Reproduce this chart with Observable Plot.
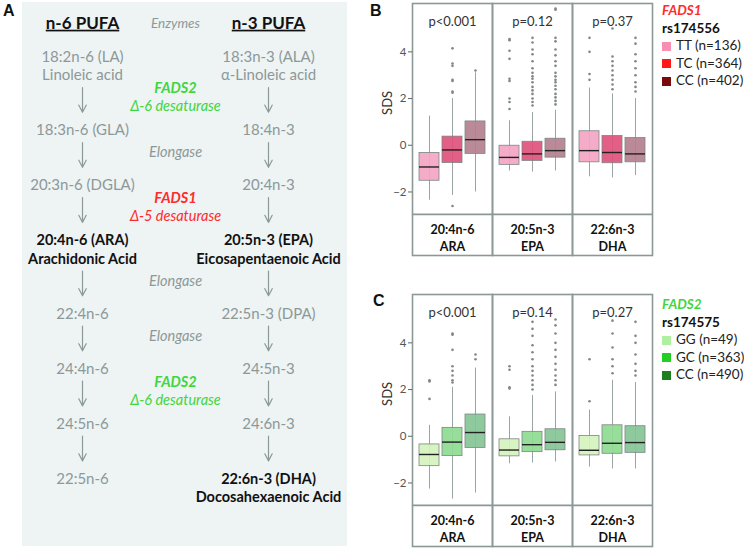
<!DOCTYPE html>
<html><head><meta charset="utf-8">
<script src="https://cdn.jsdelivr.net/npm/d3@7"></script>
<script src="https://cdn.jsdelivr.net/npm/@observablehq/plot@0.6"></script>
<style>
body{margin:0;background:#fff;font-family:Lato,sans-serif;}
#fig{position:relative;width:744px;height:549px;overflow:hidden;background:#fff;}
.letter{position:absolute;font-family:"Liberation Sans",Arial,sans-serif;font-weight:bold;font-size:16px;color:#111;line-height:16px;}
.leg{position:absolute;left:662px;font-size:13.5px;color:#222;line-height:17.6px;font-family:Lato,sans-serif;white-space:nowrap;}
.leg .gene{font-weight:bold;font-style:italic;}
.leg .snp{font-weight:bold;color:#111;}
.leg .sw{display:inline-block;width:9px;height:9px;margin-right:5px;vertical-align:-0.5px;}
</style></head><body><div id="fig"></div>
<script>
// ---------- Panel A data ----------
const headers = ["n-6 PUFA", "Enzymes", "n-3 PUFA"];
const n6Steps = ["18:2n-6 (LA)\nLinoleic acid", "18:3n-6 (GLA)", "20:3n-6 (DGLA)", "20:4n-6 (ARA)\nArachidonic Acid", "22:4n-6", "24:4n-6", "24:5n-6", "22:5n-6"];
const n3Steps = ["18:3n-3 (ALA)\nα-Linoleic acid", "18:4n-3", "20:4n-3", "20:5n-3 (EPA)\nEicosapentaenoic Acid", "22:5n-3 (DPA)", "24:5n-3", "24:6n-3", "22:6n-3 (DHA)\nDocosahexaenoic Acid"];
const enzymes = [["FADS2", "Δ-6 desaturase"], ["Elongase"], ["FADS1", "Δ-5 desaturase"], ["Elongase"], ["Elongase"], ["FADS2", "Δ-6 desaturase"], []];
const highlighted = ["20:4n-6 (ARA)", "20:5n-3 (EPA)", "22:6n-3 (DHA)"];

// ---------- Panels B & C data ----------
const facets = ["ARA", "EPA", "DHA"];
const facetLabels = ["20:4n-6\nARA", "20:5n-3\nEPA", "22:6n-3\nDHA"];
const yTicks = [-2, 0, 2, 4];

const genoB = ["TT", "TC", "CC"];
const nB = [136, 364, 402];
const pB = ["p<0.001", "p=0.12", "p=0.37"];
// order: ARA(TT,TC,CC), EPA(...), DHA(...)
const lowB  = [-2.35, -2.15, -2.0,  -1.1, -1.15, -1.1,  -1.35, -1.4, -1.3];
const q1B   = [-1.52, -0.76, -0.37, -0.84, -0.67, -0.53, -0.73, -0.77, -0.73];
const medB  = [-0.93, -0.2, 0.24,   -0.52, -0.37, -0.23, -0.23, -0.31, -0.37];
const q3B   = [-0.33, 0.37, 1.02,   -0.02, 0.15, 0.28,   0.6, 0.4, 0.31];
const highB = [1.25, 2.0, 3.1,      1.05, 1.4, 1.5,      2.45, 2.2, 2.0];
const outB = [
  [], [4.15, 3.5, 3.4, 2.8, 2.75, 2.3, 2.25, -2.6], [3.2],
  [4.55, 4.5, 4.05, 3.7, 2.85, 2.75, 2.0, 1.85, 1.55],
  [4.6, 4.4, 4.1, 3.9, 3.6, 3.3, 3.1, 2.95, 2.85, 2.7, 2.5, 2.35, 2.2, 2.0, 1.85, 1.7],
  [5.85, 5.8, 4.6, 4.45, 4.1, 3.85, 3.6, 3.4, 3.1, 2.95, 2.8, 2.7, 2.55, 2.4, 2.2, 2.05, 1.9, 1.75],
  [4.6, 4.0, 3.05, 2.8],
  [5.0, 3.8, 3.6, 3.4, 3.2, 3.0, 2.8, 2.6, 2.4],
  [4.6, 4.35, 3.9, 3.6, 3.3, 3.0, 2.7, 2.5, 2.3]
];

const genoC = ["GG", "GC", "CC"];
const nC = [49, 363, 490];
const pC = ["p<0.001", "p=0.14", "p=0.27"];
const lowC  = [-2.26, -2.69, -2.43, -1.18, -1.15, -1.1,  -1.32, -1.4, -1.4];
const q1C   = [-1.28, -0.85, -0.5,  -0.86, -0.68, -0.6,  -0.82, -0.75, -0.71];
const medC  = [-0.78, -0.25, 0.16,  -0.59, -0.36, -0.26, -0.6, -0.3, -0.27];
const q3C   = [-0.35, 0.36, 0.93,   -0.13, 0.19, 0.3,    0.01, 0.47, 0.43];
const highC = [0.47, 2.1, 2.92,     0.83, 1.75, 1.9,     1.12, 2.4, 2.3];
const outC = [
  [2.4, 2.35, 1.6], [4.4, 4.35, 3.7, 3.0, 2.8, 2.6, 2.4, 2.3], [3.5, 3.3],
  [3.0, 2.85, 2.1, 2.05],
  [4.9, 4.6, 4.3, 3.9, 3.6, 3.3, 3.0, 2.8, 2.6, 2.4, 2.2, 2.0],
  [5.0, 4.75, 4.4, 4.0, 3.7, 3.4, 3.1, 2.85, 2.6, 2.4, 2.2],
  [3.3, 1.5],
  [4.95, 4.4, 3.8, 3.3, 3.0, 2.7],
  [4.9, 4.3, 4.0, 3.5, 3.1, 2.8, 2.6]
];

// ---------- styles ----------
const boxColorsB = ["#f4a5c3", "#e0517c", "#b5808f"];
const legendColorsB = ["#f78fb2", "#ff1a1a", "#7a0a0a"];
const boxColorsC = ["#d4f3bd", "#8fdb92", "#86c596"];
const legendColorsC = ["#aef0a0", "#22d022", "#1e7f1e"];
const gray = "#8c9998";
const frameColor = "#8a9896";
const enzymeColor = {FADS1: "#ff2b2b", FADS2: "#3fd63f", Elongase: gray};

const fig = document.getElementById("fig");

// ---------- Panel A ----------
(function panelA() {
  const nLines = n3Steps.map((s, k) => Math.max(s.split("\n").length, n6Steps[k].split("\n").length));
  const pos = [];
  nLines.forEach((n, k) => pos.push(k === 0 ? 0 : pos[k - 1] + 2 + nLines[k - 1]));
  const items = [];
  [["n6", n6Steps], ["n3", n3Steps]].forEach(([col, steps]) => steps.forEach((s, k) => {
    const ls = s.split("\n");
    const bold = highlighted.includes(ls[0]);
    ls.forEach((t, i) => items.push({col, line: pos[k] + i, t, bold}));
  }));
  const arrows = [];
  const enz = [];
  for (let k = 0; k < pos.length - 1; k++) {
    const last = pos[k] + nLines[k] - 1;
    for (const col of ["n6", "n3"]) arrows.push({col, from: last + 0.65, to: pos[k + 1] - 1.0});
    const e = enzymes[k];
    const mid = (last + pos[k + 1]) / 2 - 0.3;
    e.forEach((t, i) => enz.push({line: mid - (e.length - 1) / 2 + i, t, name: i === 0, color: enzymeColor[e[0]]}));
  }
  const hdr = headers.map((h, i) => ({col: ["n6", "enz", "n3"][i], t: h, line: -1.85, bold: i !== 1}));
  const svg = Plot.plot({
    width: 325, height: 544, margin: 0,
    style: {background: "#eef3f4", fontFamily: "Lato, sans-serif", overflow: "visible"},
    x: {type: "point", domain: ["n6", "enz", "n3"], range: [59, 246.5], padding: 0, axis: null},
    y: {domain: [0, 24], range: [54.7, 495.1], axis: null},
    marks: [
      Plot.arrow(arrows, {x1: "col", x2: "col", y1: "from", y2: "to", stroke: gray, strokeWidth: 1.2, headLength: 10, headAngle: 55}),
      Plot.text(items.filter(d => !d.bold), {x: "col", y: "line", text: "t", fill: gray, fontSize: 15}),
      Plot.text(items.filter(d => d.bold), {x: "col", y: "line", text: "t", fill: "#111", fontSize: 14.5, fontWeight: "bold"}),
      Plot.text(enz.filter(d => d.name && d.t !== "Elongase"), {x: () => "enz", y: "line", text: "t", fill: "color", fontSize: 14.5, fontWeight: "bold", fontStyle: "italic"}),
      Plot.text(enz.filter(d => !d.name || d.t === "Elongase"), {x: () => "enz", y: "line", text: "t", fill: "color", fontSize: 14.5, fontStyle: "italic"}),
      Plot.text(hdr.filter(d => d.bold), {x: "col", y: "line", text: "t", fill: "#111", fontSize: 17, fontWeight: "bold"}),
      Plot.text(hdr.filter(d => !d.bold), {x: "col", y: "line", text: "t", fill: gray, fontSize: 13.5, fontStyle: "italic"})
    ]
  });
  d3.select(svg).selectAll("text").filter(function() { return this.textContent === headers[0] || this.textContent === headers[2]; })
    .attr("text-decoration", "underline");
  svg.style.position = "absolute"; svg.style.left = "22px"; svg.style.top = "2px";
  fig.appendChild(svg);
})();

// ---------- Panels B & C ----------
const yDomain = [-4.72, 6.07];
const yFloor = -2.96;
const labelY = -3.93;
const sdsY = 1.3;

function boxPanel(geno, low, q1, med, q3, high, outs, pvals, colors) {
  const rows = [];
  facets.forEach((fa, i) => geno.forEach((g, j) => {
    const k = i * 3 + j;
    rows.push({fa, g, low: low[k], q1: q1[k], med: med[k], q3: q3[k], high: high[k], out: outs[k]});
  }));
  const pts = rows.flatMap(r => r.out.map(v => ({fa: r.fa, g: r.g, v})));
  const fl = facets.map((fa, i) => ({fa, label: facetLabels[i], p: pvals[i]}));
  return Plot.plot({
    width: 299, height: 258, marginLeft: 57, marginRight: 2, marginTop: 3, marginBottom: 3,
    style: {fontFamily: "Lato, sans-serif", background: "transparent", color: "#555", overflow: "visible"},
    fx: {domain: facets, padding: 0, axis: null},
    x: {domain: geno, paddingInner: 0.13, paddingOuter: 0.3, axis: null},
    y: {domain: yDomain},
    color: {domain: geno, range: colors},
    marks: [
      Plot.ruleX(rows, {fx: "fa", x: "g", y1: "low", y2: "high", stroke: "#9aa5a3", strokeWidth: 1}),
      Plot.barY(rows, {fx: "fa", x: "g", y1: "q1", y2: "q3", fill: "g", fillOpacity: 0.92, stroke: "#7d8584", strokeWidth: 0.8}),
      Plot.tickY(rows, {fx: "fa", x: "g", y: "med", stroke: "#222", strokeWidth: 1.4}),
      Plot.dot(pts, {fx: "fa", x: "g", y: "v", r: 1.3, fill: "#7f8886", stroke: null}),
      Plot.ruleY([yFloor], {stroke: frameColor, strokeWidth: 1.6}),
      Plot.frame({stroke: frameColor, strokeWidth: 1.6}),
      Plot.text(fl, {fx: "fa", text: "p", frameAnchor: "top", dy: 13, fontSize: 13, fill: "#333"}),
      Plot.text(fl, {fx: "fa", y: () => labelY, text: "label", fontSize: 12.5, fontWeight: "bold", fill: "#111", lineHeight: 1.35}),
      Plot.text(fl.slice(0, 1), {fx: "fa", y: () => sdsY, text: () => "SDS", frameAnchor: "left", dx: -25, rotate: -90, fontSize: 13, fill: "#333"}),
      Plot.axisY({ticks: yTicks, tickSize: 4, tickPadding: 2, label: null, fontSize: 11.5, stroke: "#666", color: "#555"})
    ]
  });
}

function addPanel(svg, top) {
  svg.style.position = "absolute"; svg.style.left = "355px"; svg.style.top = top + "px";
  fig.appendChild(svg);
}
addPanel(boxPanel(genoB, lowB, q1B, medB, q3B, highB, outB, pB, boxColorsB), 0);
addPanel(boxPanel(genoC, lowC, q1C, medC, q3C, highC, outC, pC, boxColorsC), 291);

// ---------- letters ----------
[["A", 3, 3], ["B", 370, 3], ["C", 373, 293]].forEach(([t, x, y]) => {
  const d = document.createElement("div");
  d.className = "letter"; d.textContent = t; d.style.left = x + "px"; d.style.top = y + "px";
  fig.appendChild(d);
});

// ---------- legends ----------
function legend(gene, geneColor, snp, geno, n, colors, top) {
  const d = document.createElement("div");
  d.className = "leg"; d.style.top = top + "px";
  let h = `<div class="gene" style="color:${geneColor}">${gene}</div><div class="snp">${snp}</div>`;
  geno.forEach((g, i) => { h += `<div><span class="sw" style="background:${colors[i]}"></span>${g} (n=${n[i]})</div>`; });
  d.innerHTML = h;
  fig.appendChild(d);
}
legend("FADS1", "#ff2b2b", "rs174556", genoB, nB, legendColorsB, 2);
legend("FADS2", "#3fd63f", "rs174575", genoC, nC, legendColorsC, 296);
</script></body></html>
